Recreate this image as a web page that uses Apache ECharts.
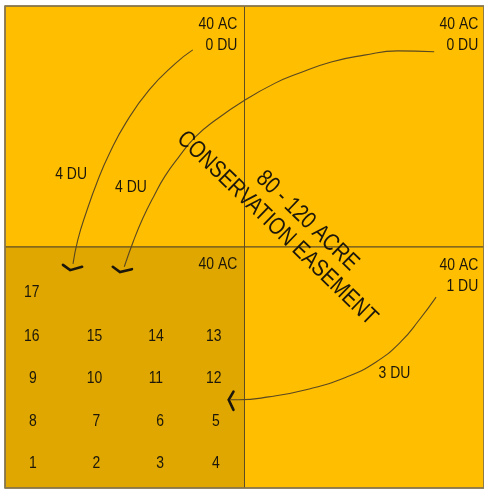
<!DOCTYPE html>
<html>
<head>
<meta charset="utf-8">
<script src="https://cdn.jsdelivr.net/npm/echarts@6/dist/echarts.min.js"></script>
<style>
html,body{margin:0;padding:0;background:#fff;}
#chart{width:484px;height:489px;}
</style>
</head>
<body>
<div id="chart"></div>
<script>
// ---- data (diagram units: 0..100 each way, quadrants split at 50) ----
const quadNames = ['NW', 'NE', 'SW', 'SE'];
const quadX0 = [0, 50, 0, 50];
const quadX1 = [50, 100, 50, 100];
const quadY0 = [50, 50, 0, 0];
const quadY1 = [100, 100, 50, 50];
const quadShade = [0, 0, 1, 0];

const acreText = ['40 AC\n0 DU', '40 AC\n0 DU', '40 AC', '40 AC\n1 DU'];
const acreX = [48.5, 98.8, 48.5, 98.8];
const acreY = [94.1, 94.1, 46.5, 44.1];

const duText = ['4 DU', '4 DU', '3 DU'];
const duX = [13.8, 26.3, 81.3];
const duY = [65.1, 62.4, 23.7];

const lotNum = [17, 16, 15, 14, 13, 9, 10, 11, 12, 8, 7, 6, 5, 1, 2, 3, 4];
const lotX = [5.6, 5.6, 18.7, 31.5, 43.6, 5.8, 18.7, 31.5, 43.6, 5.8, 19.1, 32.4, 44.0, 5.8, 19.1, 32.4, 44.0];
const lotY = [40.7, 31.5, 31.5, 31.5, 31.5, 22.8, 22.8, 22.8, 22.8, 13.9, 13.9, 13.9, 13.9, 5.2, 5.2, 5.2, 5.2];

const easeText = ['80 - 120 ACRE', 'CONSERVATION EASEMENT'];
const easeX = [63.1, 56.8];
const easeY = [55.4, 53.9];

// transfer arcs
const arc1X = [39.2, 35.6, 30.1, 25.2, 21.8, 19.4, 16.9, 15.2, 14.2];
const arc1Y = [90.9, 88.1, 82.6, 75.7, 69.4, 63.9, 57.0, 51.5, 46.5];
const arc2X = [89.6, 82.0, 75.0, 68.1, 61.2, 56.4, 50.1, 43.9, 39.8, 36.3, 33.4, 31.1, 28.8, 26.8, 24.9];
const arc2Y = [90.5, 90.7, 89.8, 88.4, 86.0, 84.0, 80.5, 76.3, 72.9, 68.7, 64.7, 60.6, 56.0, 51.2, 45.9];
const arc3X = [90.0, 86.5, 82.6, 77.4, 71.2, 63.3, 55.0, 48.8, 47.1];
const arc3Y = [39.6, 34.9, 30.3, 26.1, 23.0, 20.5, 18.9, 18.3, 18.3];

// arrow heads (chevrons)
const head1X = [12.1, 13.6, 16.1];
const head1Y = [46.3, 45.2, 45.9];
const head2X = [22.5, 24.0, 26.5];
const head2Y = [45.9, 44.8, 45.4];
const head3X = [47.7, 46.7, 47.7];
const head3Y = [20.0, 18.3, 16.2];

// ---- styles ----
const FONT = "'Liberation Sans', Arial, sans-serif";
const TEXT = '#1c170a';
const shadeColors = ['#FFBE00', '#DFA700'];

const zip = (xs, ys) => xs.map((x, i) => [x, ys[i]]);

const chart = echarts.init(document.getElementById('chart'), null, {renderer: 'canvas'});

function arcSeries(xs, ys) {
  return {
    type: 'line', data: zip(xs, ys), smooth: 0.5, showSymbol: false, silent: true,
    lineStyle: {color: '#5a4820', width: 1.1}, z: 3, animation: false
  };
}
function headSeries(xs, ys) {
  return {
    type: 'line', data: zip(xs, ys), smooth: false, showSymbol: false, silent: true,
    lineStyle: {color: '#1c170c', width: 2.6, cap: 'round', join: 'miter'}, z: 4, animation: false
  };
}
function textSeries(texts, xs, ys, opts) {
  const o = Object.assign({align: 'center', size: 17, rotate: 0, narrow: 0.82}, opts);
  return {
    type: 'custom', silent: true, z: 5, animation: false,
    data: texts.map((t, i) => [xs[i], ys[i], i]),
    renderItem: function (params, api) {
      const p = api.coord([api.value(0), api.value(1)]);
      return {
        type: 'text',
        x: p[0], y: p[1],
        rotation: o.rotate * Math.PI / 180,
        scaleX: o.narrow,
        style: {
          text: String(texts[api.value(2)]),
          fill: TEXT,
          fontFamily: FONT,
          fontSize: o.size,
          lineHeight: 21,
          align: o.align,
          verticalAlign: 'middle'
        }
      };
    }
  };
}

const option = {
  animation: false,
  grid: {left: 5, top: 6, width: 482, height: 482},
  xAxis: {type: 'value', min: 0, max: 100, show: false},
  yAxis: {type: 'value', min: 0, max: 100, show: false},
  series: [
    {
      type: 'custom', silent: true, z: 1,
      data: quadNames.map((n, i) => [quadX0[i], quadY0[i], quadX1[i], quadY1[i], quadShade[i]]),
      renderItem: function (params, api) {
        const p0 = api.coord([api.value(0), api.value(3)]);
        const p1 = api.coord([api.value(2), api.value(1)]);
        return {
          type: 'rect',
          shape: {x: p0[0], y: p0[1], width: p1[0] - p0[0], height: p1[1] - p0[1]},
          style: {fill: shadeColors[api.value(4)], stroke: '#5e4d24', lineWidth: 1}
        };
      }
    },
    {
      type: 'custom', silent: true, z: 2,
      data: [[0, 0, 100, 100]],
      renderItem: function (params, api) {
        const p0 = api.coord([api.value(0), api.value(3)]);
        const p1 = api.coord([api.value(2), api.value(1)]);
        return {
          type: 'rect',
          shape: {x: p0[0], y: p0[1], width: p1[0] - p0[0], height: p1[1] - p0[1]},
          style: {fill: null, stroke: '#8a7a52', lineWidth: 1.6}
        };
      }
    },
    arcSeries(arc1X, arc1Y),
    arcSeries(arc2X, arc2Y),
    arcSeries(arc3X, arc3Y),
    headSeries(head1X, head1Y),
    headSeries(head2X, head2Y),
    headSeries(head3X, head3Y),
    textSeries(acreText, acreX, acreY, {align: 'right'}),
    textSeries(duText, duX, duY, {}),
    textSeries(lotNum, lotX, lotY, {}),
    textSeries(easeText, easeX, easeY, {size: 24, rotate: -44})
  ]
};
chart.setOption(option);
</script>
</body>
</html>
